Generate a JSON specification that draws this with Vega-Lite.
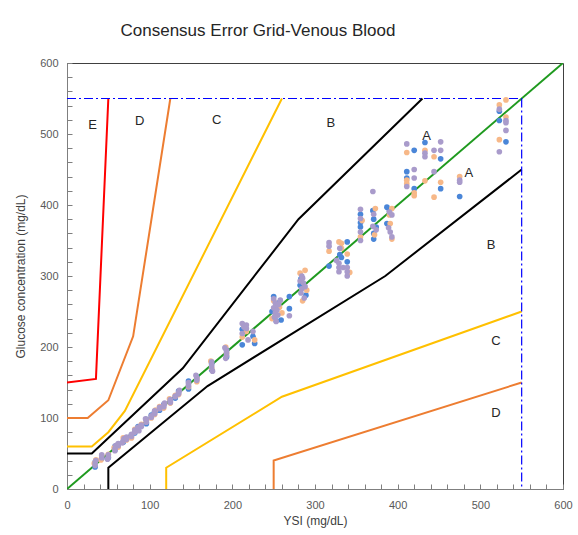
{
 "$schema": "https://vega.github.io/schema/vega-lite/v6.json",
 "width": 496, "height": 426,
 "autosize": "none",
 "padding": {"left": 67, "top": 63, "right": 15, "bottom": 46},
 "background": "white",
 "config": {"view": {"stroke": "#404040", "strokeWidth": 1}, "font": "Liberation Sans"},
 "title": {"text": "Consensus Error Grid-Venous Blood", "fontSize": 17, "fontWeight": "normal", "color": "#262626", "dx": -57, "offset": 17, "font": "Liberation Sans"},
 "datasets": {
  "zones": [
   {"seg": "Aup", "i": 0, "x": 0, "y": 50}, {"seg": "Aup", "i": 1, "x": 30, "y": 50}, {"seg": "Aup", "i": 2, "x": 140, "y": 170}, {"seg": "Aup", "i": 3, "x": 280, "y": 380}, {"seg": "Aup", "i": 4, "x": 430, "y": 550},
   {"seg": "Alo", "i": 0, "x": 50, "y": 0}, {"seg": "Alo", "i": 1, "x": 50, "y": 30}, {"seg": "Alo", "i": 2, "x": 170, "y": 145}, {"seg": "Alo", "i": 3, "x": 385, "y": 300}, {"seg": "Alo", "i": 4, "x": 550, "y": 450},
   {"seg": "Bup", "i": 0, "x": 0, "y": 60}, {"seg": "Bup", "i": 1, "x": 30, "y": 60}, {"seg": "Bup", "i": 2, "x": 50, "y": 80}, {"seg": "Bup", "i": 3, "x": 70, "y": 110}, {"seg": "Bup", "i": 4, "x": 260, "y": 550},
   {"seg": "Blo", "i": 0, "x": 120, "y": 0}, {"seg": "Blo", "i": 1, "x": 120, "y": 30}, {"seg": "Blo", "i": 2, "x": 260, "y": 130}, {"seg": "Blo", "i": 3, "x": 550, "y": 250},
   {"seg": "Cup", "i": 0, "x": 0, "y": 100}, {"seg": "Cup", "i": 1, "x": 25, "y": 100}, {"seg": "Cup", "i": 2, "x": 50, "y": 125}, {"seg": "Cup", "i": 3, "x": 80, "y": 215}, {"seg": "Cup", "i": 4, "x": 125, "y": 550},
   {"seg": "Clo", "i": 0, "x": 250, "y": 0}, {"seg": "Clo", "i": 1, "x": 250, "y": 40}, {"seg": "Clo", "i": 2, "x": 550, "y": 150},
   {"seg": "Dup", "i": 0, "x": 0, "y": 150}, {"seg": "Dup", "i": 1, "x": 35, "y": 155}, {"seg": "Dup", "i": 2, "x": 50, "y": 550},
   {"seg": "diag", "i": 0, "x": 0, "y": 0}, {"seg": "diag", "i": 1, "x": 600, "y": 600}
  ],
  "limits": [
   {"seg": "h", "i": 0, "x": 0, "y": 550}, {"seg": "h", "i": 1, "x": 550, "y": 550},
   {"seg": "v", "i": 0, "x": 550, "y": 550}, {"seg": "v", "i": 1, "x": 550, "y": 0}
  ],
  "labels": [
   {"t": "E", "x": 31, "y": 513}, {"t": "D", "x": 88, "y": 518}, {"t": "C", "x": 181, "y": 520}, {"t": "B", "x": 319, "y": 516},
   {"t": "A", "x": 435, "y": 497}, {"t": "A", "x": 486, "y": 445}, {"t": "B", "x": 513, "y": 344}, {"t": "C", "x": 519, "y": 208}, {"t": "D", "x": 519, "y": 107}
  ],
  "pts": [
   {"g":"Blue","x":34,"y":31},{"g":"Blue","x":34,"y":38},{"g":"Blue","x":42,"y":43},{"g":"Blue","x":50,"y":44},{"g":"Blue","x":58,"y":55},{"g":"Blue","x":58,"y":60},{"g":"Blue","x":62,"y":63},{"g":"Blue","x":68,"y":66},{"g":"Blue","x":78,"y":76},{"g":"Blue","x":82,"y":79},{"g":"Blue","x":86,"y":88},{"g":"Blue","x":96,"y":92},{"g":"Blue","x":96,"y":98},{"g":"Blue","x":102,"y":104},{"g":"Blue","x":106,"y":109},{"g":"Blue","x":112,"y":111},{"g":"Blue","x":117,"y":119},{"g":"Blue","x":125,"y":125},{"g":"Blue","x":131,"y":128},{"g":"Blue","x":135,"y":138},{"g":"Blue","x":147,"y":141},{"g":"Blue","x":147,"y":152},{"g":"Blue","x":157,"y":158},{"g":"Blue","x":175,"y":168},{"g":"Blue","x":175,"y":177},{"g":"Blue","x":193,"y":186},{"g":"Blue","x":193,"y":196},
   {"g":"Blue","x":212,"y":225},{"g":"Blue","x":227,"y":205},{"g":"Blue","x":212,"y":203},{"g":"Blue","x":225,"y":215},
   {"g":"Blue","x":250,"y":271},{"g":"Blue","x":259,"y":238},{"g":"Blue","x":253,"y":237},{"g":"Blue","x":248,"y":250},{"g":"Blue","x":255,"y":262},{"g":"Blue","x":269,"y":271},{"g":"Blue","x":269,"y":254},
   {"g":"Blue","x":282,"y":287},{"g":"Blue","x":289,"y":273},{"g":"Blue","x":283,"y":296},
   {"g":"Blue","x":339,"y":348},{"g":"Blue","x":330,"y":330},{"g":"Blue","x":332,"y":326},{"g":"Blue","x":317,"y":314},{"g":"Blue","x":339,"y":320},
   {"g":"Blue","x":355,"y":387},{"g":"Blue","x":355,"y":375},{"g":"Blue","x":355,"y":369},
   {"g":"Blue","x":370,"y":392},{"g":"Blue","x":371,"y":380},{"g":"Blue","x":374,"y":369},{"g":"Blue","x":371,"y":360},{"g":"Blue","x":371,"y":352},
   {"g":"Blue","x":387,"y":397},{"g":"Blue","x":387,"y":374},{"g":"Blue","x":390,"y":392},
   {"g":"Blue","x":420,"y":477},{"g":"Blue","x":433,"y":488},{"g":"Blue","x":452,"y":465},{"g":"Blue","x":411,"y":447},{"g":"Blue","x":411,"y":438},{"g":"Blue","x":420,"y":423},{"g":"Blue","x":452,"y":423},{"g":"Blue","x":475,"y":412},
   {"g":"Blue","x":523,"y":532},{"g":"Blue","x":523,"y":519},{"g":"Blue","x":531,"y":489},

   {"g":"Orange","x":33,"y":36},{"g":"Orange","x":35,"y":41},{"g":"Orange","x":42,"y":47},{"g":"Orange","x":41,"y":41},{"g":"Orange","x":50,"y":49},{"g":"Orange","x":57,"y":58},{"g":"Orange","x":62,"y":59},{"g":"Orange","x":68,"y":72},{"g":"Orange","x":72,"y":69},{"g":"Orange","x":78,"y":72},{"g":"Orange","x":82,"y":84},{"g":"Orange","x":86,"y":83},{"g":"Orange","x":90,"y":91},{"g":"Orange","x":96,"y":96},{"g":"Orange","x":102,"y":100},{"g":"Orange","x":106,"y":105},{"g":"Orange","x":107,"y":111},{"g":"Orange","x":112,"y":116},{"g":"Orange","x":117,"y":114},{"g":"Orange","x":125,"y":121},{"g":"Orange","x":124,"y":127},{"g":"Orange","x":131,"y":132},{"g":"Orange","x":135,"y":133},{"g":"Orange","x":147,"y":144},{"g":"Orange","x":157,"y":151},{"g":"Orange","x":157,"y":156},{"g":"Orange","x":175,"y":170},{"g":"Orange","x":174,"y":180},{"g":"Orange","x":193,"y":191},{"g":"Orange","x":192,"y":200},
   {"g":"Orange","x":217,"y":222},{"g":"Orange","x":227,"y":210},{"g":"Orange","x":212,"y":214},{"g":"Orange","x":214,"y":230},
   {"g":"Orange","x":250,"y":265},{"g":"Orange","x":252,"y":244},{"g":"Orange","x":257,"y":256},{"g":"Orange","x":260,"y":248},{"g":"Orange","x":248,"y":240},
   {"g":"Orange","x":282,"y":304},{"g":"Orange","x":288,"y":308},{"g":"Orange","x":285,"y":265},{"g":"Orange","x":290,"y":280},
   {"g":"Orange","x":329,"y":348},{"g":"Orange","x":332,"y":346},{"g":"Orange","x":317,"y":335},{"g":"Orange","x":332,"y":339},{"g":"Orange","x":339,"y":331},{"g":"Orange","x":342,"y":305},
   {"g":"Orange","x":355,"y":355},{"g":"Orange","x":357,"y":378},
   {"g":"Orange","x":373,"y":395},{"g":"Orange","x":372,"y":358},
   {"g":"Orange","x":393,"y":395},{"g":"Orange","x":391,"y":374},{"g":"Orange","x":393,"y":352},{"g":"Orange","x":390,"y":386},
   {"g":"Orange","x":411,"y":474},{"g":"Orange","x":433,"y":477},{"g":"Orange","x":444,"y":468},{"g":"Orange","x":411,"y":435},{"g":"Orange","x":411,"y":430},{"g":"Orange","x":420,"y":417},{"g":"Orange","x":420,"y":413},{"g":"Orange","x":433,"y":434},{"g":"Orange","x":444,"y":411},{"g":"Orange","x":452,"y":432},{"g":"Orange","x":475,"y":440},
   {"g":"Orange","x":523,"y":541},{"g":"Orange","x":531,"y":548},{"g":"Orange","x":531,"y":524},{"g":"Orange","x":523,"y":492},

   {"g":"Purple","x":34,"y":33},{"g":"Purple","x":34,"y":37},{"g":"Purple","x":35,"y":40},{"g":"Purple","x":42,"y":44},{"g":"Purple","x":42,"y":48},{"g":"Purple","x":50,"y":45},{"g":"Purple","x":50,"y":48},{"g":"Purple","x":49,"y":42},{"g":"Purple","x":58,"y":54},{"g":"Purple","x":58,"y":57},{"g":"Purple","x":59,"y":61},{"g":"Purple","x":62,"y":61},{"g":"Purple","x":62,"y":64},{"g":"Purple","x":68,"y":68},{"g":"Purple","x":69,"y":71},{"g":"Purple","x":67,"y":65},{"g":"Purple","x":72,"y":73},{"g":"Purple","x":72,"y":70},{"g":"Purple","x":78,"y":74},{"g":"Purple","x":78,"y":77},{"g":"Purple","x":82,"y":80},{"g":"Purple","x":82,"y":83},{"g":"Purple","x":86,"y":85},{"g":"Purple","x":86,"y":87},{"g":"Purple","x":87,"y":82},{"g":"Purple","x":90,"y":88},{"g":"Purple","x":90,"y":90},{"g":"Purple","x":96,"y":94},{"g":"Purple","x":96,"y":97},{"g":"Purple","x":95,"y":99},{"g":"Purple","x":102,"y":101},{"g":"Purple","x":102,"y":103},{"g":"Purple","x":106,"y":106},{"g":"Purple","x":106,"y":108},{"g":"Purple","x":106,"y":110},{"g":"Purple","x":112,"y":113},{"g":"Purple","x":112,"y":115},{"g":"Purple","x":117,"y":116},{"g":"Purple","x":117,"y":118},{"g":"Purple","x":118,"y":121},{"g":"Purple","x":125,"y":122},{"g":"Purple","x":125,"y":124},{"g":"Purple","x":125,"y":126},{"g":"Purple","x":131,"y":130},{"g":"Purple","x":131,"y":131},{"g":"Purple","x":135,"y":134},{"g":"Purple","x":135,"y":136},{"g":"Purple","x":136,"y":139},{"g":"Purple","x":147,"y":145},{"g":"Purple","x":147,"y":148},{"g":"Purple","x":147,"y":150},{"g":"Purple","x":157,"y":153},{"g":"Purple","x":157,"y":155},{"g":"Purple","x":156,"y":160},{"g":"Purple","x":175,"y":172},{"g":"Purple","x":175,"y":175},{"g":"Purple","x":175,"y":179},{"g":"Purple","x":176,"y":166},{"g":"Purple","x":193,"y":188},{"g":"Purple","x":193,"y":192},{"g":"Purple","x":193,"y":195},{"g":"Purple","x":191,"y":199},{"g":"Purple","x":192,"y":184},
   {"g":"Purple","x":212,"y":233},{"g":"Purple","x":217,"y":231},{"g":"Purple","x":212,"y":219},{"g":"Purple","x":219,"y":210},{"g":"Purple","x":225,"y":222},{"g":"Purple","x":214,"y":228},{"g":"Purple","x":217,"y":226},
   {"g":"Purple","x":250,"y":268},{"g":"Purple","x":252,"y":262},{"g":"Purple","x":253,"y":258},{"g":"Purple","x":250,"y":255},{"g":"Purple","x":254,"y":252},{"g":"Purple","x":252,"y":248},{"g":"Purple","x":255,"y":245},{"g":"Purple","x":251,"y":242},{"g":"Purple","x":256,"y":260},{"g":"Purple","x":253,"y":236},{"g":"Purple","x":258,"y":266},{"g":"Purple","x":269,"y":244},
   {"g":"Purple","x":284,"y":300},{"g":"Purple","x":282,"y":293},{"g":"Purple","x":286,"y":290},{"g":"Purple","x":284,"y":282},{"g":"Purple","x":283,"y":276},{"g":"Purple","x":287,"y":269},{"g":"Purple","x":285,"y":297},{"g":"Purple","x":288,"y":285},
   {"g":"Purple","x":317,"y":347},{"g":"Purple","x":317,"y":342},{"g":"Purple","x":330,"y":339},{"g":"Purple","x":329,"y":318},{"g":"Purple","x":329,"y":312},{"g":"Purple","x":329,"y":306},{"g":"Purple","x":334,"y":312},{"g":"Purple","x":339,"y":312},{"g":"Purple","x":339,"y":306},{"g":"Purple","x":339,"y":300},{"g":"Purple","x":326,"y":322},
   {"g":"Purple","x":355,"y":394},{"g":"Purple","x":355,"y":381},{"g":"Purple","x":355,"y":362},{"g":"Purple","x":355,"y":350},
   {"g":"Purple","x":371,"y":387},{"g":"Purple","x":370,"y":370},{"g":"Purple","x":374,"y":365},{"g":"Purple","x":370,"y":419},
   {"g":"Purple","x":390,"y":390},{"g":"Purple","x":393,"y":386},{"g":"Purple","x":391,"y":362},{"g":"Purple","x":393,"y":355},{"g":"Purple","x":389,"y":368},
   {"g":"Purple","x":411,"y":486},{"g":"Purple","x":433,"y":473},{"g":"Purple","x":433,"y":468},{"g":"Purple","x":444,"y":477},{"g":"Purple","x":452,"y":489},{"g":"Purple","x":452,"y":477},{"g":"Purple","x":420,"y":450},{"g":"Purple","x":420,"y":438},{"g":"Purple","x":411,"y":426},{"g":"Purple","x":444,"y":447},{"g":"Purple","x":475,"y":435},{"g":"Purple","x":475,"y":432},
   {"g":"Purple","x":523,"y":535},{"g":"Purple","x":531,"y":519},{"g":"Purple","x":531,"y":516},{"g":"Purple","x":531,"y":505},{"g":"Purple","x":523,"y":475}
  ]
 },
 "resolve": {"scale": {"color": "independent"}},
 "encoding": {
  "x": {"field": "x", "type": "quantitative", "scale": {"domain": [0, 600], "nice": false},
    "axis": {"title": "YSI (mg/dL)", "values": [0,20,40,60,80,100,120,140,160,180,200,220,240,260,280,300,320,340,360,380,400,420,440,460,480,500,520,540,560,580,600],
      "labelExpr": "datum.value % 100 === 0 ? datum.label : ''", "grid": false, "tickSize": -5, "labelPadding": 15, "labelFlush": false,
      "domainColor": "#7f7f7f", "tickColor": "#7f7f7f", "labelColor": "#595959", "labelFontSize": 11, "labelFont": "Liberation Sans",
      "titleFontSize": 12, "titleFontWeight": "normal", "titleColor": "#404040", "titleFont": "Liberation Sans", "titlePadding": 5}},
  "y": {"field": "y", "type": "quantitative", "scale": {"domain": [0, 600], "nice": false},
    "axis": {"title": "Glucose concentration (mg/dL)", "values": [0,20,40,60,80,100,120,140,160,180,200,220,240,260,280,300,320,340,360,380,400,420,440,460,480,500,520,540,560,580,600],
      "labelExpr": "datum.value % 100 === 0 ? datum.label : ''", "grid": false, "tickSize": -5, "labelPadding": 14, "labelFlush": false,
      "domainColor": "#7f7f7f", "tickColor": "#7f7f7f", "labelColor": "#595959", "labelFontSize": 11, "labelFont": "Liberation Sans",
      "titleFontSize": 12, "titleFontWeight": "normal", "titleColor": "#404040", "titleFont": "Liberation Sans", "titlePadding": 12}}
 },
 "layer": [
  {
   "data": {"name": "zones"},
   "mark": {"type": "line", "strokeWidth": 2, "clip": true},
   "encoding": {
    "order": {"field": "i", "type": "quantitative"},
    "color": {"field": "seg", "type": "nominal", "legend": null,
      "scale": {"domain": ["Aup", "Alo", "Bup", "Blo", "Cup", "Clo", "Dup", "diag"], "range": ["#000000", "#000000", "#ffc000", "#ffc000", "#ed7d31", "#ed7d31", "#ff0000", "#1f9a1f"]}}
   }
  },
  {
   "data": {"name": "limits"},
   "mark": {"type": "line", "strokeWidth": 1.2, "strokeDash": [9, 3, 2, 3], "color": "#0000ff"},
   "encoding": {
    "detail": {"field": "seg"},
    "order": {"field": "i", "type": "quantitative"}
   }
  },
  {
   "data": {"name": "pts"},
   "mark": {"type": "circle", "size": 32, "opacity": 1},
   "encoding": {
    "color": {"field": "g", "type": "nominal", "legend": null,
      "scale": {"domain": ["Blue", "Orange", "Purple"], "range": ["#4a86d8", "#f7b888", "#a99bcb"]}}
   }
  },
  {
   "data": {"name": "labels"},
   "mark": {"type": "text", "fontSize": 13, "color": "#262626", "font": "Liberation Sans"},
   "encoding": {
    "text": {"field": "t"}
   }
  }
 ]
}
